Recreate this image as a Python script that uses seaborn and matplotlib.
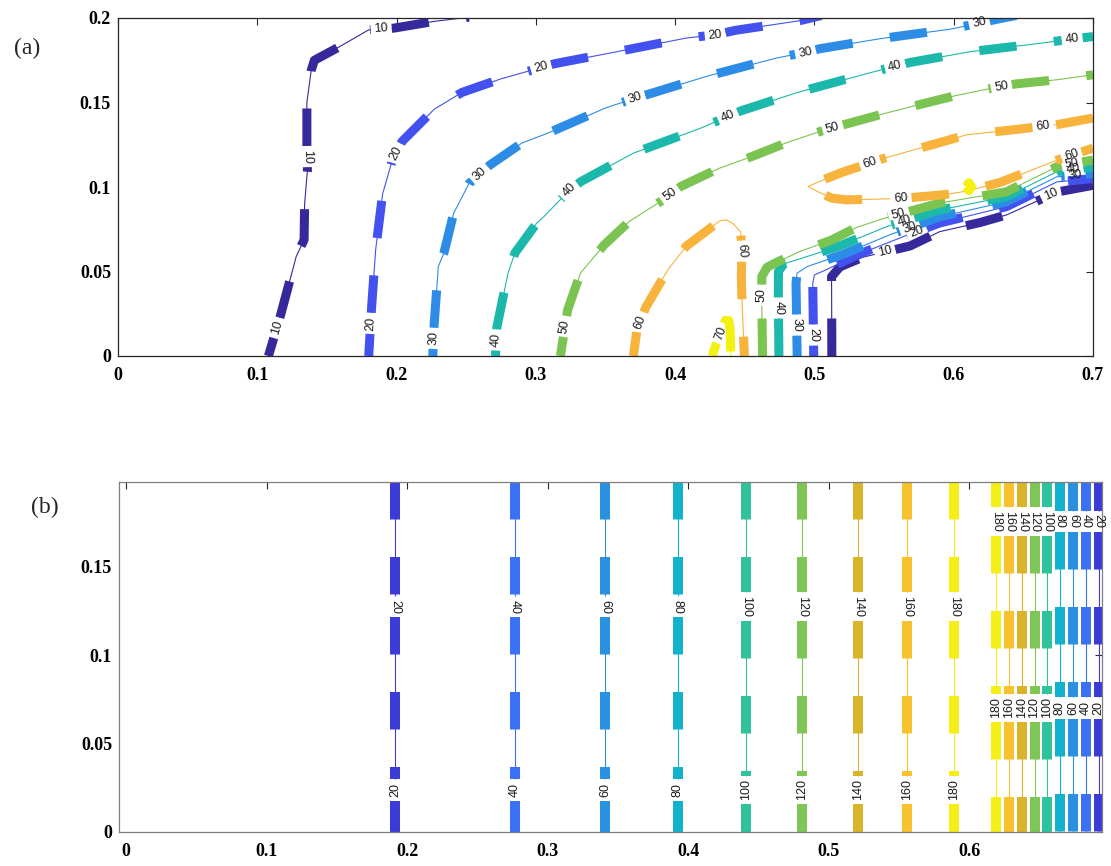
import numpy as np
import pandas as pd
import seaborn as sns
import matplotlib
matplotlib.use("Agg")
from matplotlib import pyplot as plt

# ---------------- panel (a): contour paths ----------------
c10a_x = [0.108, 0.117, 0.128, 0.1336, 0.134, 0.136, 0.1356, 0.1356, 0.1387, 0.141, 0.159, 0.180, 0.198, 0.227, 0.252]
c10a_y = [0.0, 0.025, 0.059, 0.0687, 0.090, 0.110, 0.125, 0.150, 0.169, 0.175, 0.183, 0.193, 0.194, 0.198, 0.2005]
c10b_x = [0.5125, 0.5123, 0.5184, 0.535, 0.5686, 0.590, 0.619, 0.638, 0.674, 0.700]
c10b_y = [0.0, 0.047, 0.0528, 0.0585, 0.0651, 0.0736, 0.079, 0.0835, 0.097, 0.101]

c20a_x = [0.180, 0.182, 0.185, 0.190, 0.197, 0.204, 0.227, 0.247, 0.275, 0.3137, 0.356, 0.4084, 0.4288, 0.4432, 0.4895, 0.505]
c20a_y = [0.0, 0.028, 0.063, 0.096, 0.116, 0.127, 0.146, 0.156, 0.164, 0.173, 0.1797, 0.1882, 0.190, 0.1927, 0.1984, 0.2015]
c20b_x = [0.4995, 0.4988, 0.500, 0.507, 0.5327, 0.5637, 0.590, 0.638, 0.674, 0.700]
c20b_y = [0.0, 0.043, 0.048, 0.0505, 0.0605, 0.0706, 0.0787, 0.0884, 0.103, 0.105]

c30a_x = [0.226, 0.227, 0.230, 0.234, 0.241, 0.252, 0.267, 0.290, 0.309, 0.3498, 0.3712, 0.3812, 0.4222, 0.4727,
          0.4936, 0.5038, 0.546, 0.5983, 0.6184, 0.6341, 0.645]
c30a_y = [0.0, 0.019, 0.053, 0.061, 0.0845, 0.102, 0.113, 0.126, 0.132, 0.1467, 0.1526, 0.155, 0.1654, 0.1763,
          0.1797, 0.1818, 0.1876, 0.1935, 0.197, 0.1998, 0.2015]
c30b_x = [0.4876, 0.4868, 0.4875, 0.495, 0.520, 0.554, 0.590, 0.638, 0.674, 0.700]
c30b_y = [0.0, 0.043, 0.049, 0.053, 0.060, 0.0717, 0.0824, 0.0913, 0.106, 0.108]

c40a_x = [0.271, 0.272, 0.280, 0.285, 0.3005, 0.3058, 0.324, 0.3325, 0.370, 0.4183, 0.447, 0.488, 0.539, 0.5687,
          0.6114, 0.6637, 0.685, 0.700]
c40a_y = [0.0, 0.017, 0.049, 0.061, 0.0785, 0.0825, 0.098, 0.1033, 0.120, 0.1348, 0.145, 0.156, 0.1674, 0.1737,
          0.180, 0.1852, 0.1876, 0.189]
c40b_x = [0.4745, 0.4741, 0.4742, 0.478, 0.4915, 0.5177, 0.552, 0.590, 0.638, 0.674, 0.700]
c40b_y = [0.0, 0.035, 0.050, 0.0545, 0.058, 0.065, 0.0766, 0.0864, 0.0943, 0.109, 0.112]

c50a_x = [0.3176, 0.3228, 0.332, 0.349, 0.367, 0.3895, 0.404, 0.4314, 0.455, 0.481, 0.5046, 0.5216, 0.5504,
          0.5766, 0.601, 0.6276, 0.6446, 0.6746, 0.700]
c50a_y = [0.0, 0.0272, 0.049, 0.0657, 0.0796, 0.0914, 0.1003, 0.111, 0.118, 0.1265, 0.133, 0.137, 0.1435,
          0.149, 0.154, 0.1585, 0.161, 0.1635, 0.1664]
c50b_x = [0.4628, 0.4621, 0.4622, 0.466, 0.473, 0.490, 0.512, 0.530, 0.550, 0.590, 0.638, 0.674, 0.700]
c50b_y = [0.0, 0.035, 0.047, 0.0525, 0.0555, 0.062, 0.0685, 0.076, 0.0815, 0.0905, 0.0972, 0.112, 0.116]

c60a_x = [0.370, 0.3725, 0.379, 0.3948, 0.408, 0.4235, 0.432, 0.437, 0.442, 0.447, 0.448, 0.4475, 0.448, 0.4497]
c60a_y = [0.0, 0.015, 0.029, 0.051, 0.065, 0.0746, 0.080, 0.0805, 0.078, 0.0735, 0.061, 0.047, 0.033, 0.0]
c60b_x = [0.700, 0.6746, 0.6433, 0.6093, 0.593, 0.5504, 0.540, 0.5216, 0.507, 0.4955, 0.503, 0.5125, 0.523,
          0.553, 0.5622, 0.5935, 0.609, 0.6333, 0.6746, 0.700]
c60b_y = [0.1408, 0.137, 0.1339, 0.1309, 0.127, 0.1171, 0.1141, 0.1092, 0.1045, 0.1003, 0.097, 0.0934, 0.0924,
          0.0930, 0.0932, 0.0955, 0.0975, 0.1027, 0.116, 0.123]

c70a_x = [0.4265, 0.429, 0.4315, 0.434, 0.436, 0.4385, 0.4395, 0.440]
c70a_y = [0.0, 0.006, 0.0105, 0.016, 0.021, 0.021, 0.015, 0.0]
c70b_x = [0.609, 0.6109, 0.6128, 0.6109, 0.6089]
c70b_y = [0.1002, 0.1025, 0.1002, 0.0979, 0.1001]

# inline contour labels of panel (a)
a_lab_level = [10, 10, 10, 10, 10,
               20, 20, 20, 20, 20, 20,
               30, 30, 30, 30, 30, 30, 30, 30,
               40, 40, 40, 40, 40, 40, 40, 40,
               50, 50, 50, 50, 50, 50, 50,
               60, 60, 60, 60, 60, 60,
               70]
a_lab_x = [0.115, 0.1356, 0.189, 0.5507, 0.6703,
           0.1816, 0.1998, 0.304, 0.4288, 0.5734, 0.4995,
           0.2255, 0.2607, 0.3712, 0.4936, 0.6184, 0.5686, 0.4868, 0.687,
           0.271, 0.324, 0.438, 0.558, 0.685, 0.565, 0.4741, 0.6854,
           0.3215, 0.396, 0.5125, 0.634, 0.5614, 0.4621, 0.6846,
           0.375, 0.447, 0.540, 0.5622, 0.664, 0.6846,
           0.4327]
a_lab_y = [0.0164, 0.118, 0.193, 0.0617, 0.0947,
           0.0193, 0.120, 0.170, 0.190, 0.0736, 0.0124,
           0.0105, 0.107, 0.1526, 0.1797, 0.197, 0.0757, 0.0183, 0.1085,
           0.0095, 0.098, 0.1418, 0.1714, 0.1876, 0.0787, 0.0284, 0.1115,
           0.0174, 0.096, 0.137, 0.1605, 0.0815, 0.036, 0.115,
           0.020, 0.062, 0.1141, 0.0934, 0.1362, 0.119,
           0.0135]

# ---------------- panel (b): straight contours ----------------
b_levels = [20, 40, 60, 80, 100, 120, 140, 160, 180, 180, 160, 140, 120, 100, 80, 60, 40, 20]
b_x = [0.1916, 0.2766, 0.341, 0.3925, 0.441, 0.481, 0.521, 0.5556, 0.5896,
       0.619, 0.6285, 0.6378, 0.6466, 0.6556, 0.6646, 0.6739, 0.6829, 0.6922]
b_y = [0.198, 0.0]
b_lab_y_inner = [0.1275, 0.0238]   # first nine lines
b_lab_y_outer = [0.1757, 0.0702]   # last nine lines
b_lab_rot = [-90, 90]

# ---------------- styling ----------------
a_colors = {10: "#35299c", 20: "#4352ee", 30: "#2d8de6", 40: "#1cb8ab", 50: "#7cc451", 60: "#f7b33b", 70: "#f2f10f"}
b_colors = {20: "#3c3bd8", 40: "#3a72f3", 60: "#2a90e0", 80: "#12b1cc", 100: "#30c29a",
            120: "#80c656", 140: "#d9b42a", 160: "#f7c22d", 180: "#f5ef17"}

sns.set_style("white")
plt.rcParams["font.family"] = ["Liberation Serif", "DejaVu Serif"]
plt.rcParams["lines.scale_dashes"] = False
plt.rcParams["lines.solid_capstyle"] = "butt"

fig = plt.figure(figsize=(11.11, 8.66), dpi=100)
ax_a = fig.add_axes([118 / 1111, 1 - 356 / 866, 975 / 1111, 338 / 866])
ax_b = fig.add_axes([119 / 1111, 1 - 832 / 866, 983 / 1111, 350 / 866])
ax_a.set_xlim(0, 0.7)
ax_a.set_ylim(0, 0.2)
ax_b.set_xlim(-0.005, 0.6946)
ax_b.set_ylim(0, 0.198)

DASH = (0, (27, 27))
LAB_SIZE = 9


def project(p, cum, q):
    best = (np.inf, 0.0, 0.0)
    for i in range(len(p) - 1):
        a, b = p[i], p[i + 1]
        ab = b - a
        L2 = ab @ ab
        if L2 == 0:
            continue
        t = np.clip((q - a) @ ab / L2, 0, 1)
        d = np.hypot(*(a + t * ab - q))
        if d < best[0]:
            best = (d, cum[i] + t * np.sqrt(L2), np.degrees(np.arctan2(ab[1], ab[0])))
    return best


def prep(ax, xs, ys):
    p = ax.transData.transform(np.column_stack([xs, ys]))
    cum = np.concatenate([[0], np.cumsum(np.hypot(*np.diff(p, axis=0).T))])
    return p, cum


def sub_path(p, cum, s0, s1):
    inner = p[(cum > s0) & (cum < s1)]
    a = [np.interp(s0, cum, p[:, 0]), np.interp(s0, cum, p[:, 1])]
    b = [np.interp(s1, cum, p[:, 0]), np.interp(s1, cum, p[:, 1])]
    return np.vstack([a, inner, b])


def draw_path(ax, p, cum, color, cuts, thin, thick):
    inv = ax.transData.inverted()
    pieces, start = [], 0.0
    for s0, s1 in sorted(cuts):
        if s0 > start:
            pieces.append((start, s0))
        start = max(start, s1)
    if start < cum[-1]:
        pieces.append((start, cum[-1]))
    for s0, s1 in pieces:
        if s1 - s0 < 1:
            continue
        seg = inv.transform(sub_path(p, cum, s0, s1))
        df = pd.DataFrame({"x": seg[:, 0], "y": seg[:, 1]})
        sns.lineplot(data=df, x="x", y="y", sort=False, estimator=None, color=color, lw=thin, ax=ax)
        sns.lineplot(data=df, x="x", y="y", sort=False, estimator=None, color=color, lw=thick,
                     linestyle=DASH, ax=ax)


def put_label(ax, p_pt, text, rot):
    x, y = ax.transData.inverted().transform(p_pt)
    ax.text(x, y, text, rotation=rot, rotation_mode="anchor", ha="center", va="center",
            fontsize=LAB_SIZE, family=["Liberation Sans", "DejaVu Sans"], fontweight="normal",
            color="#1a1a1a", zorder=6)


def half_gap(text):
    return 3.8 * len(text) + 3


# ---- panel (a)
a_paths = [(10, c10a_x, c10a_y), (10, c10b_x, c10b_y), (20, c20a_x, c20a_y), (20, c20b_x, c20b_y),
           (30, c30a_x, c30a_y), (30, c30b_x, c30b_y), (40, c40a_x, c40a_y), (40, c40b_x, c40b_y),
           (50, c50a_x, c50a_y), (50, c50b_x, c50b_y), (60, c60a_x, c60a_y), (60, c60b_x, c60b_y),
           (70, c70a_x, c70a_y), (70, c70b_x, c70b_y)]
a_prep = [prep(ax_a, xs, ys) for _, xs, ys in a_paths]
a_cuts = [[] for _ in a_paths]
for lev, lx, ly in zip(a_lab_level, a_lab_x, a_lab_y):
    q = ax_a.transData.transform((lx, ly))
    best = None
    for k, (plev, _, _) in enumerate(a_paths):
        if plev != lev:
            continue
        p, cum = a_prep[k]
        d, s, ang = project(p, cum, q)
        if best is None or d < best[0]:
            best = (d, k, s, ang)
    _, k, s, ang = best
    p, cum = a_prep[k]
    txt = str(lev)
    h = half_gap(txt)
    a_cuts[k].append((s - h, s + h))
    if ang >= 90:
        ang -= 180
    if ang < -90:
        ang += 180
    pt = [np.interp(s, cum, p[:, 0]), np.interp(s, cum, p[:, 1])]
    put_label(ax_a, pt, txt, ang)

for k, (lev, _, _) in enumerate(a_paths):
    p, cum = a_prep[k]
    draw_path(ax_a, p, cum, a_colors[lev], a_cuts[k], 0.8, 6.5)

# ---- panel (b)
for i, (lev, x0) in enumerate(zip(b_levels, b_x)):
    p, cum = prep(ax_b, [x0, x0], b_y)
    labs = b_lab_y_inner if i < 9 else b_lab_y_outer
    txt = str(lev)
    h = half_gap(txt)
    cuts = []
    for ly, rot in zip(labs, b_lab_rot):
        q = ax_b.transData.transform((x0, ly))
        _, s, _ = project(p, cum, q)
        cuts.append((s - h, s + h))
        put_label(ax_b, q, txt, rot)
    draw_path(ax_b, p, cum, b_colors[lev], cuts, 0.8, 7.2)

# ---- axes cosmetics
ax_a.set_xticks([0, 0.1, 0.2, 0.3, 0.4, 0.5, 0.6, 0.7])
ax_a.set_xticklabels(["0", "0.1", "0.2", "0.3", "0.4", "0.5", "0.6", "0.7"])
ax_a.set_yticks([0, 0.05, 0.1, 0.15, 0.2])
ax_a.set_yticklabels(["0", "0.05", "0.1", "0.15", "0.2"])
ax_b.set_xticks([0, 0.1, 0.2, 0.3, 0.4, 0.5, 0.6])
ax_b.set_xticklabels(["0", "0.1", "0.2", "0.3", "0.4", "0.5", "0.6"])
ax_b.set_yticks([0, 0.05, 0.1, 0.15])
ax_b.set_yticklabels(["0", "0.05", "0.1", "0.15"])

for ax, edge in ((ax_a, "#262626"), (ax_b, "#7f7f7f")):
    ax.set_xlabel("")
    ax.set_ylabel("")
    for sp in ax.spines.values():
        sp.set_visible(True)
        sp.set_color(edge)
        sp.set_linewidth(0.9)
    ax.tick_params(direction="in", top=True, right=True, length=5, width=0.8, colors="#262626")
    ax.tick_params(axis="x", pad=8, labelsize=13, labelcolor="black")
    ax.tick_params(axis="y", pad=5, labelsize=13, labelcolor="black")
    for lab in ax.get_xticklabels() + ax.get_yticklabels():
        lab.set_fontweight("bold")

fig.text(27 / 1111, 1 - 48 / 866, "(a)", fontsize=17, ha="center", va="center")
fig.text(45 / 1111, 1 - 507 / 866, "(b)", fontsize=17, ha="center", va="center")

fig.savefig("out.png", dpi=100)
